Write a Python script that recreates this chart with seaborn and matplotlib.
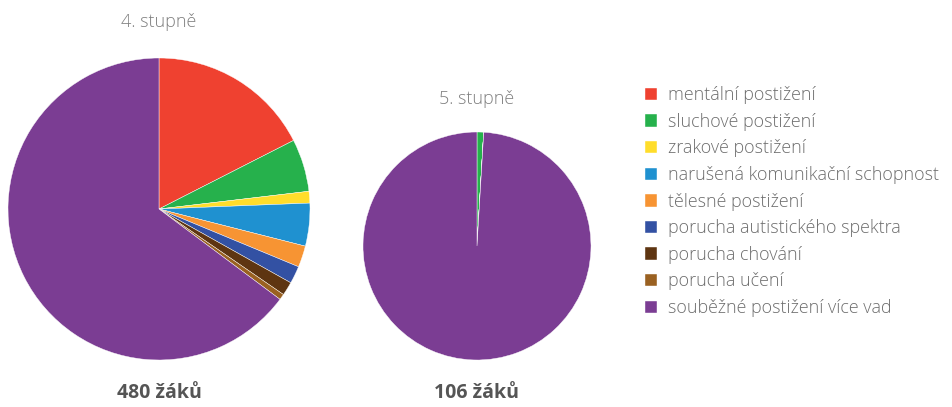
import matplotlib
matplotlib.use("Agg")
import matplotlib.pyplot as plt
import seaborn as sns

categories = ["mentální postižení", "sluchové postižení", "zrakové postižení",
              "narušená komunikační schopnost", "tělesné postižení",
              "porucha autistického spektra", "porucha chování", "porucha učení",
              "souběžné postižení více vad"]
values_4 = [84, 27, 6, 22, 11, 9, 7, 3, 311]
values_5 = [0, 1, 0, 0, 0, 0, 0, 0, 105]
titles = ["4. stupně", "5. stupně"]
totals = ["480 žáků", "106 žáků"]
colors = ["#EF4130", "#26B14C", "#FFDD2B", "#1F91D0", "#F79433",
          "#3351A3", "#5E3511", "#9A6121", "#7B3D93"]

sns.set_theme(style="white")
plt.rcParams['font.family'] = ['Open Sans', 'DejaVu Sans']

W, H = 953, 407
fig = plt.figure(figsize=(W / 100, H / 100), dpi=100)
txt = "#6d6d6d"

def pie_axes(cx, cy, r):
    return fig.add_axes([(cx - r) / W, (H - cy - r) / H, 2 * r / W, 2 * r / H])

specs = [(159, 209, 151, values_4, 22), (477, 246, 114, values_5, 99)]
wedges_ref = None
for i, (cx, cy, r, vals, ty) in enumerate(specs):
    ax = pie_axes(cx, cy, r)
    w, _ = ax.pie(vals, colors=colors, startangle=90, counterclock=False,
                  radius=1.0, wedgeprops=dict(edgecolor="white", linewidth=0.3))
    ax.set_xlim(-1, 1)
    ax.set_ylim(-1, 1)
    ax.set_aspect("equal")
    ax.axis("off")
    if i == 0:
        wedges_ref = w
    fig.text(cx / W, 1 - ty / H, titles[i], ha="center", va="center",
             fontsize=13, fontweight="light", color="#808080")
    fig.text(cx / W, 1 - 393 / H, totals[i], ha="center", va="center",
             fontsize=14, fontweight="bold", color="#555555")

leg = fig.legend(wedges_ref, categories, loc="upper left",
                 bbox_to_anchor=(638 / W, 1 - 79 / H), frameon=False,
                 prop=dict(size=12.9, weight="light"), labelspacing=0.48,
                 handlelength=0.68, handleheight=0.68, handletextpad=0.6,
                 borderaxespad=0)
for t in leg.get_texts():
    t.set_color(txt)

fig.savefig("out.png", dpi=100)
